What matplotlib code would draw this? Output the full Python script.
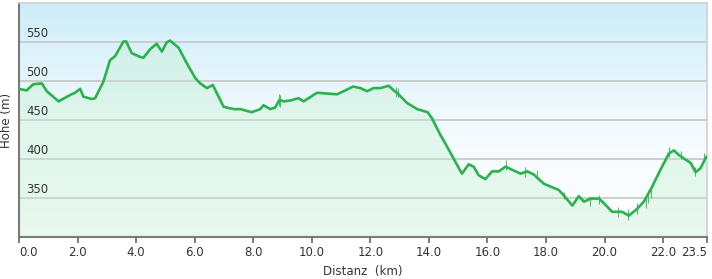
import numpy as np
import matplotlib
matplotlib.use("Agg")
import matplotlib.pyplot as plt
import matplotlib.transforms as mtransforms
from matplotlib.colors import LinearSegmentedColormap

# elevation profile
dist_km = [0.0, 0.26, 0.49, 0.78, 0.95, 1.35, 1.74, 1.91, 2.09, 2.2, 2.48, 2.6,
           2.88, 3.11, 3.28, 3.57, 3.66, 3.85, 4.14, 4.25, 4.48, 4.7, 4.88, 5.05,
           5.16, 5.45, 5.73, 6.02, 6.19, 6.42, 6.62, 6.99, 7.33, 7.56, 7.95, 8.24,
           8.35, 8.58, 8.75, 8.9, 9.04, 9.26, 9.55, 9.72, 10.18, 10.86, 11.09,
           11.41, 11.66, 11.89, 12.11, 12.34, 12.63, 12.8, 12.91, 13.25, 13.6,
           13.96, 14.11, 14.39, 14.5, 15.13, 15.36, 15.53, 15.7, 15.93, 16.16,
           16.39, 16.62, 17.13, 17.36, 17.58, 17.93, 18.44, 18.61, 18.9, 19.12,
           19.3, 19.52, 19.81, 19.98, 20.26, 20.6, 20.83, 21.12, 21.34, 21.57,
           21.91, 22.2, 22.37, 22.54, 22.77, 22.94, 23.11, 23.28, 23.45, 23.5]
elev_m = [490, 488, 496, 497, 487, 474, 482, 485, 490, 480, 477, 478,
          499, 527, 532, 551, 551, 536, 531, 530, 541, 548, 538, 550,
          552, 543, 523, 504, 497, 491, 495, 467, 464, 464, 460, 464,
          469, 464, 466, 476, 474, 475, 478, 474, 485, 483, 487,
          493, 491, 487, 491, 491, 494, 488, 485, 472, 464,
          460, 452, 431, 424, 381, 393, 390, 379, 374, 384,
          384, 390, 381, 384, 380, 368, 360, 353, 340, 352,
          345, 349, 349, 343, 332, 332, 327, 336, 345, 360,
          386, 407, 411, 405, 399, 395, 383, 388, 401, 403]

# noisy spikes on the track (km, low, high)
spike_km = [8.88, 8.93, 12.88, 12.93, 16.62, 17.3, 17.7, 18.6, 19.5, 19.8, 20.45,
            20.8, 21.1, 21.4, 21.5, 21.6, 22.2, 22.6, 23.1, 23.4]
spike_lo = [468, 467, 480, 479, 386, 377, 374, 348, 339, 342, 325,
            322, 329, 337, 343, 350, 403, 400, 378, 396]
spike_hi = [484, 482, 492, 491, 399, 390, 386, 358, 351, 354, 338,
            336, 343, 353, 360, 364, 415, 410, 389, 407]

x_ticks = [0, 2, 4, 6, 8, 10, 12, 14, 16, 18, 20, 22, 23.5]
y_ticks = [350, 400, 450, 500, 550]

line_col = "#2bb24c"
text_col = "#333333"

fig = plt.figure(figsize=(7.12, 2.79), dpi=100)
ax = fig.add_axes([19 / 712, 1 - 236.7 / 279, 688 / 712, 233.4 / 279])
ax.set_xlim(0, 23.5)
ax.set_ylim(300, 600)

# sky gradient background
grad = LinearSegmentedColormap.from_list("sky", ["#ffffff", "#f2fafe", "#cdedfa"])
ax.imshow(np.linspace(0, 1, 256).reshape(-1, 1), cmap=grad, origin="lower",
          extent=[0, 1, 0, 1], transform=ax.transAxes, aspect="auto", zorder=0)

for v in y_ticks:
    ax.axhline(v, color="#c9c9c9", lw=1.3, zorder=1)

ax.fill_between(dist_km, elev_m, 300, color="#c2efcf", alpha=0.38, lw=0, zorder=2)
ax.vlines(spike_km, spike_lo, spike_hi, color=line_col, lw=0.7, alpha=0.85, zorder=3)
ax.plot(dist_km, elev_m, color=line_col, lw=1.9, zorder=4, solid_joinstyle="round")

# y labels sit inside the plot just above their grid line
tr = mtransforms.blended_transform_factory(ax.transAxes, ax.transData)
for v in y_ticks:
    ax.text(0.011, v + 2.5, str(v), transform=tr, ha="left", va="bottom",
            fontsize=8.5, color=text_col, zorder=5)
ax.set_yticks([])

ax.set_xticks(x_ticks)
labels = ax.set_xticklabels([f"{t:.1f}" for t in x_ticks], fontsize=8.5, color=text_col)
labels[0].set_ha("left")
labels[-1].set_ha("right")
ax.tick_params(axis="x", length=4, width=1.2, color="#666666", pad=3)

for s in ("left", "bottom"):
    ax.spines[s].set_color("#7a7a7a")
    ax.spines[s].set_linewidth(1.5)
for s in ("top", "right"):
    ax.spines[s].set_color("#d0d0d0")
    ax.spines[s].set_linewidth(1.2)

ax.set_xlabel("Distanz  (km)", fontsize=8.5, color=text_col, labelpad=4)
ax.set_ylabel("Höhe (m)", fontsize=8.5, color=text_col, labelpad=4)

fig.savefig("out.png", dpi=100)
